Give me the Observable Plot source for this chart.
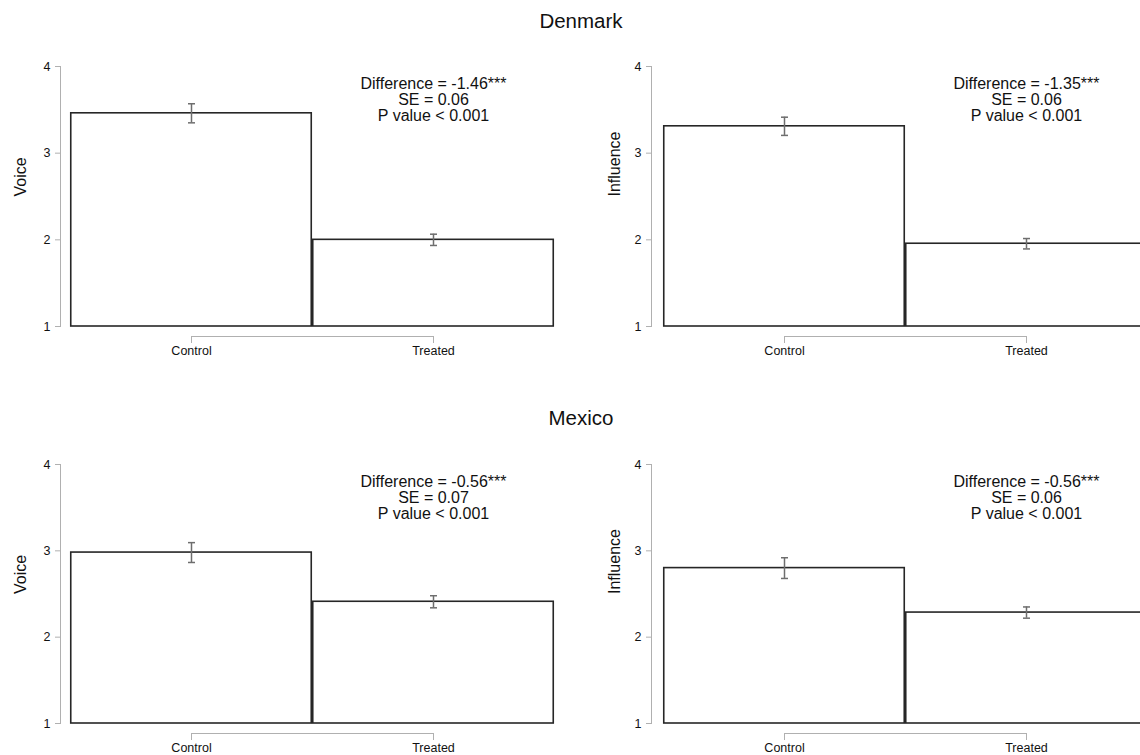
<!DOCTYPE html>
<html>
<head>
<meta charset="utf-8">
<script src="https://cdn.jsdelivr.net/npm/d3@7"></script>
<script src="https://cdn.jsdelivr.net/npm/@observablehq/plot@0.6"></script>
<style>
  html, body { margin: 0; padding: 0; background: #fff; overflow: hidden; }
  #wrap { position: relative; width: 1140px; height: 755px; overflow: hidden; background: #fff;
          font-family: "Liberation Sans", Arial, sans-serif; color: #111; }
  .title { position: absolute; font-size: 20.5px; transform: translateX(-50%); white-space: nowrap; line-height: 1; }
  .panel { position: absolute; }
</style>
</head>
<body>
<div id="wrap"></div>
<script>
// ---- data ----
const groups = ["Control", "Treated"];
const yTicks = [1, 2, 3, 4];
const countries = ["Denmark", "Mexico"];
const outcomes = ["Voice", "Influence"];

const denmarkVoiceMean = [3.46, 2.00];
const denmarkVoiceErr = [0.11, 0.065];
const denmarkInfluenceMean = [3.31, 1.955];
const denmarkInfluenceErr = [0.105, 0.06];
const mexicoVoiceMean = [2.98, 2.41];
const mexicoVoiceErr = [0.115, 0.07];
const mexicoInfluenceMean = [2.80, 2.285];
const mexicoInfluenceErr = [0.12, 0.065];

const differences = ["-1.46***", "-1.35***", "-0.56***", "-0.56***"];
const standardErrors = ["0.06", "0.06", "0.07", "0.06"];
const pValues = ["< 0.001", "< 0.001", "< 0.001", "< 0.001"];

// ---- layout ----
const wrap = document.getElementById("wrap");
const FONT = '"Liberation Sans", Arial, sans-serif';
const axisGray = "#b0b0b0";

function addTitle(text, x, y) {
  const d = document.createElement("div");
  d.className = "title";
  d.textContent = text;
  d.style.left = x + "px";
  d.style.top = y + "px";
  wrap.appendChild(d);
}

const capSymbol = {
  draw(context, size) {
    const w = Math.sqrt(size / Math.PI);
    context.moveTo(-w, 0);
    context.lineTo(w, 0);
  }
};

function panel({means, errs, label, annot, left, top, marginLeft, inset, plotHeight, labelOffset}) {
  const data = groups.map((g, i) => ({group: g, mean: means[i], lo: means[i] - errs[i], hi: means[i] + errs[i]}));
  const caps = data.flatMap(d => [{group: d.group, v: d.lo}, {group: d.group, v: d.hi}]);
  const marginTop = 16, marginBottom = 40, marginRight = 35;
  const width = marginLeft + inset + 484 + marginRight;
  const chart = Plot.plot({
    width,
    height: marginTop + plotHeight + marginBottom,
    marginLeft, marginRight, marginTop, marginBottom,
    style: {fontFamily: FONT, background: "transparent", overflow: "visible", color: "#111"},
    x: {domain: groups, type: "band", padding: 0, insetLeft: inset, axis: null},
    y: {domain: [yTicks[0], yTicks[yTicks.length - 1]], axis: null},
    marks: [
      Plot.frame({anchor: "left", stroke: axisGray}),
      Plot.axisY({ticks: yTicks, tickSize: 5, tickPadding: 5, stroke: axisGray, fill: "#111", fontSize: 12.5, label: null, tickFormat: d3.format("d")}),
      Plot.text([label], {frameAnchor: "left", text: d => d, rotate: -90, dx: -labelOffset, fontSize: 16, fill: "#111"}),
      Plot.barY(data, {x: "group", y1: () => yTicks[0], y2: "mean", fill: "white", stroke: "#262626", strokeWidth: 1.6, insetLeft: 0.75, insetRight: 0.75}),
      Plot.ruleX(data, {x: "group", y1: "lo", y2: "hi", stroke: "#6e6e6e", strokeWidth: 1.5}),
      Plot.dot(caps, {x: "group", y: "v", symbol: capSymbol, r: 3.5, stroke: "#6e6e6e", strokeWidth: 1.5, fill: "none"}),
      Plot.link([groups], {x1: d => d[0], x2: d => d[d.length - 1], y1: () => yTicks[0], y2: () => yTicks[0], dy: 10, stroke: axisGray}),
      Plot.ruleX(groups, {x: d => d, y1: () => yTicks[0], y2: () => yTicks[0], insetBottom: -7, dy: 10, stroke: axisGray}),
      Plot.text(groups, {x: d => d, y: () => yTicks[0], dy: 24, text: d => d, fontSize: 12.5, fill: "#111"}),
      Plot.text([annot], {x: () => groups[1], y: () => yTicks[yTicks.length - 1], text: d => d, lineAnchor: "top", dy: 11.5, fontSize: 16, lineHeight: 1.0, fill: "#111"})
    ]
  });
  chart.classList.add("panel");
  chart.style.left = left + "px";
  chart.style.top = top + "px";
  wrap.appendChild(chart);
}

function annotText(i) {
  return `Difference = ${differences[i]}\nSE = ${standardErrors[i]}\nP value ${pValues[i]}`;
}

addTitle(countries[0], 581, 11);
addTitle(countries[1], 581, 408);

panel({means: denmarkVoiceMean, errs: denmarkVoiceErr, label: outcomes[0], annot: annotText(0),
       left: 0, top: 50, marginLeft: 60, inset: 10, plotHeight: 260, labelOffset: 40});
panel({means: denmarkInfluenceMean, errs: denmarkInfluenceErr, label: outcomes[1], annot: annotText(1),
       left: 590, top: 50, marginLeft: 61, inset: 12, plotHeight: 260, labelOffset: 37});
panel({means: mexicoVoiceMean, errs: mexicoVoiceErr, label: outcomes[0], annot: annotText(2),
       left: 0, top: 448, marginLeft: 60, inset: 10, plotHeight: 259, labelOffset: 40});
panel({means: mexicoInfluenceMean, errs: mexicoInfluenceErr, label: outcomes[1], annot: annotText(3),
       left: 590, top: 448, marginLeft: 61, inset: 12, plotHeight: 259, labelOffset: 37});
</script>
</body>
</html>
